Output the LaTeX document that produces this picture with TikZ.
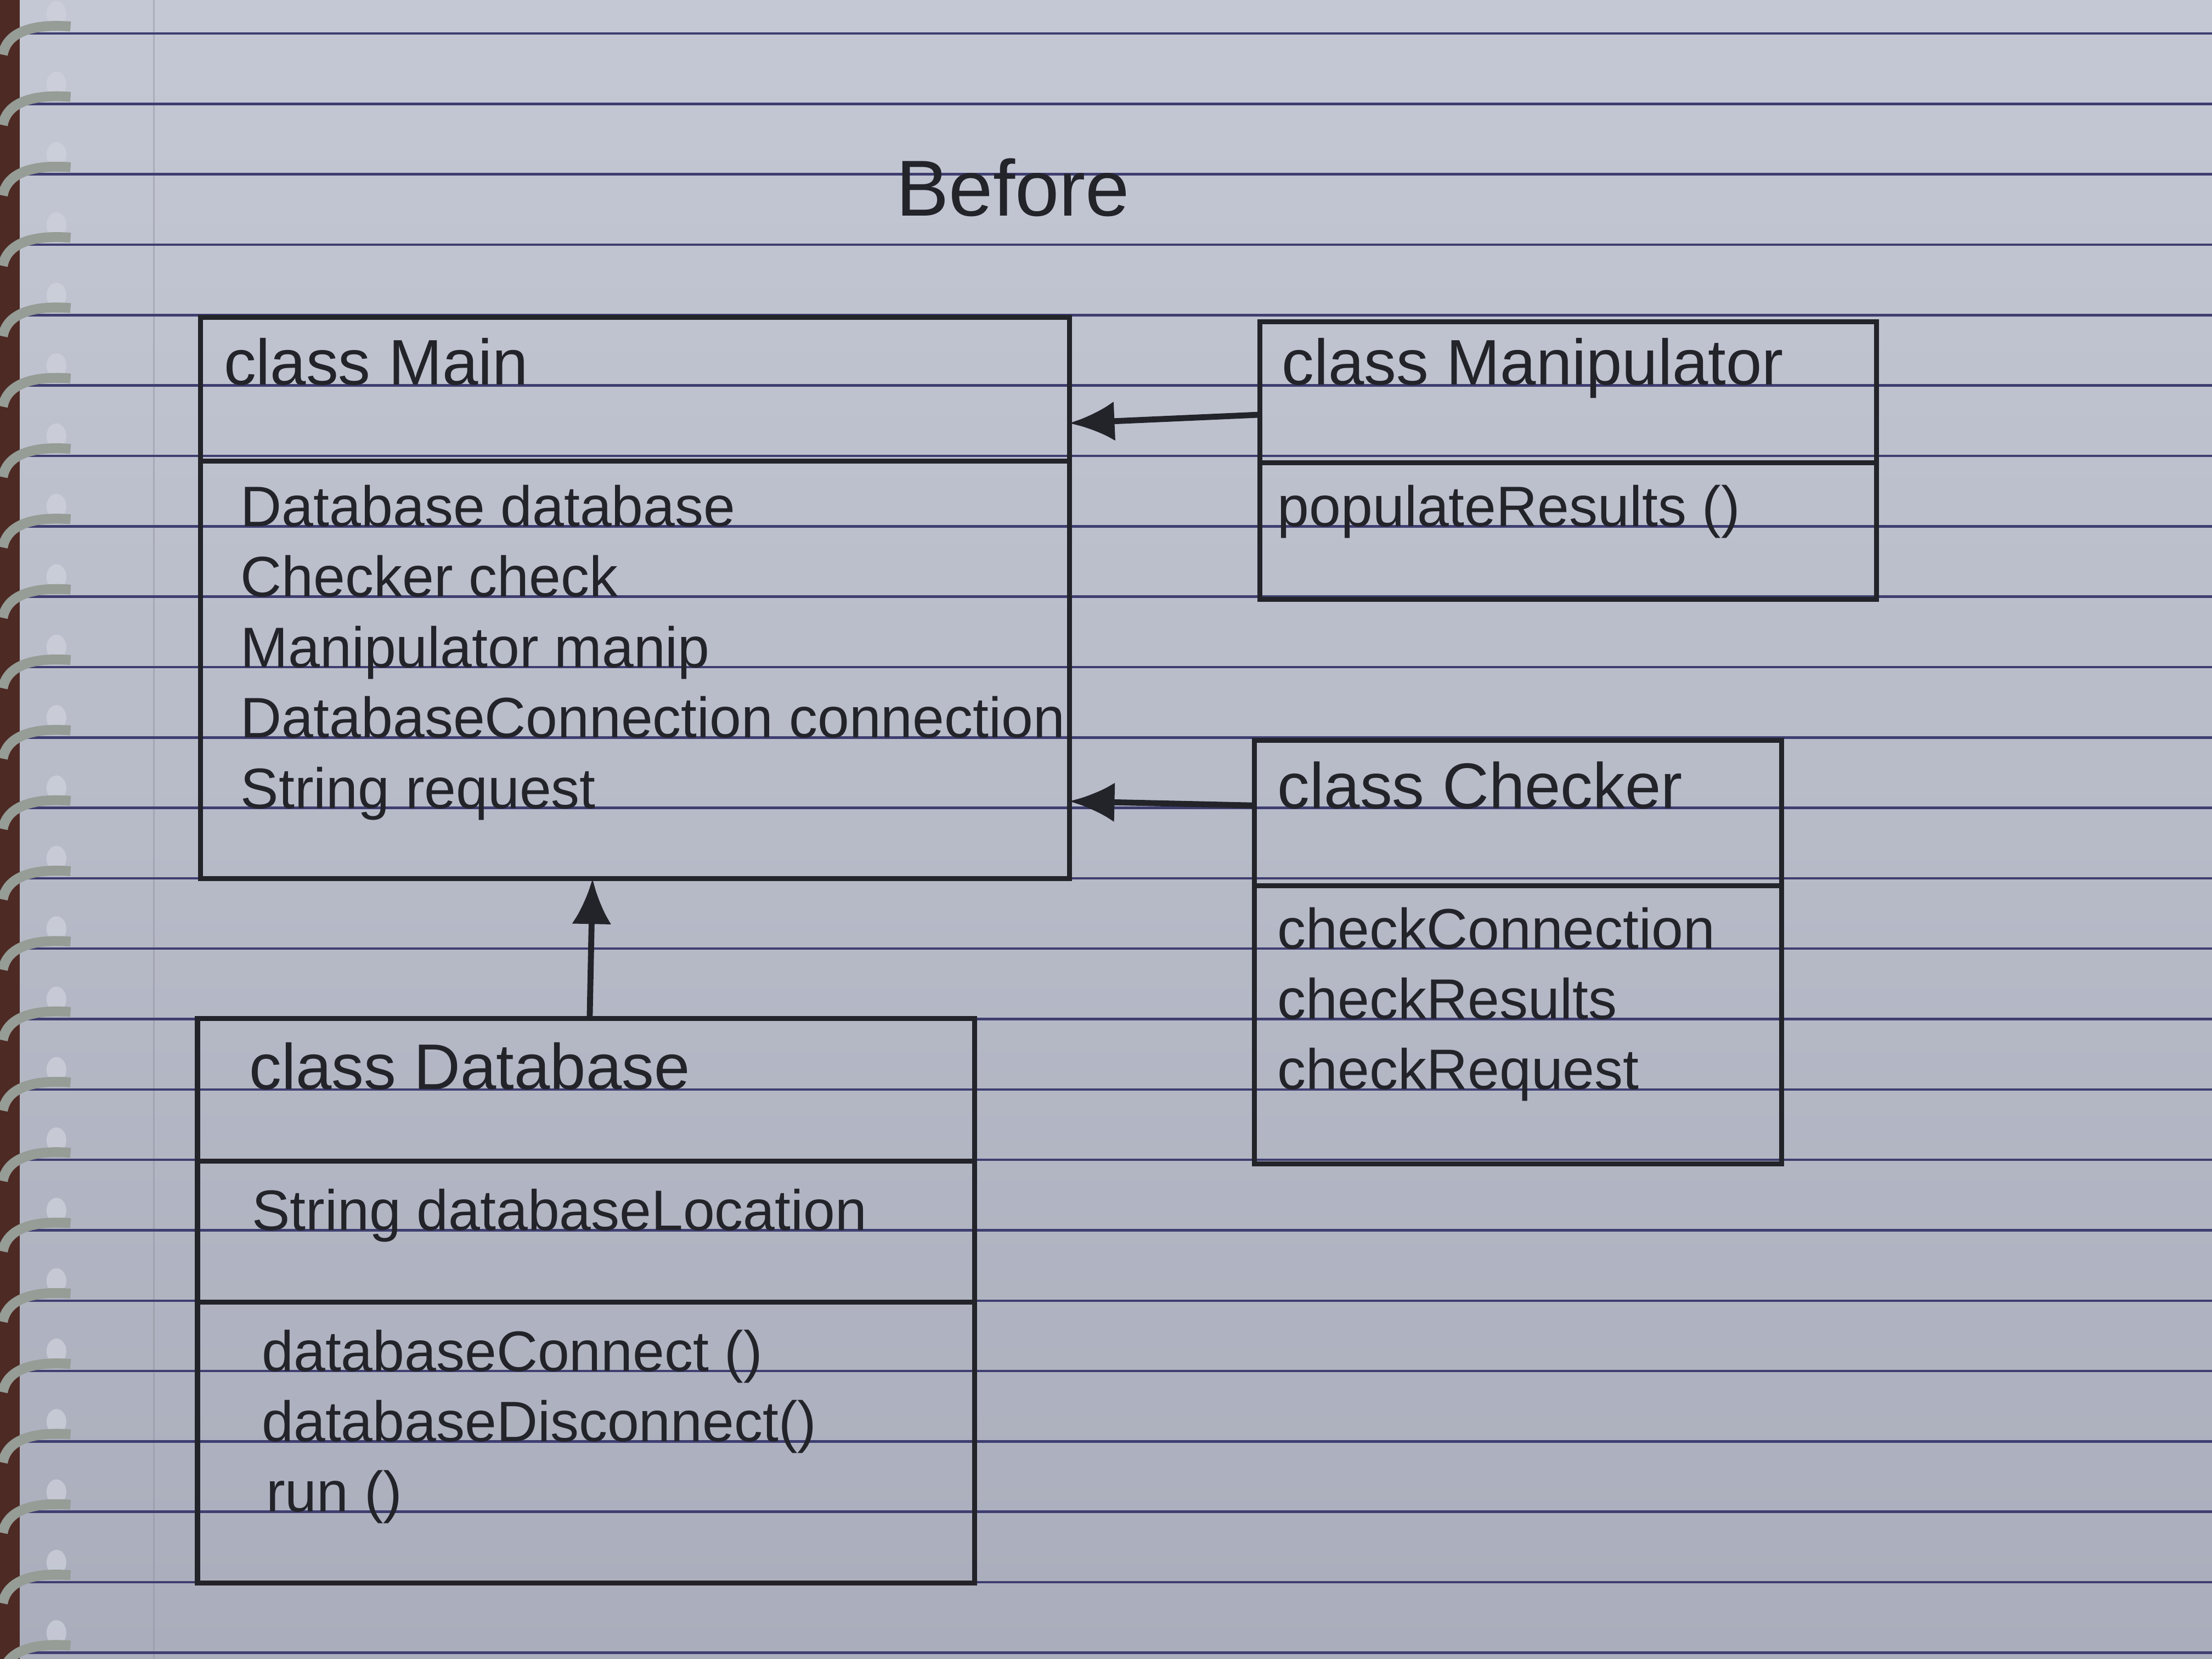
\documentclass[tikz,border=0pt]{standalone}
\usepackage{fontspec}
\setmainfont{Liberation Sans}
\usetikzlibrary{arrows.meta,positioning}
\definecolor{paper}{RGB}{196,200,212}
\definecolor{paperdark}{RGB}{170,174,188}
\definecolor{rule}{RGB}{62,62,112}
\definecolor{pen}{RGB}{35,35,42}
\definecolor{cover}{RGB}{78,42,36}
\definecolor{wire}{RGB}{150,156,150}

\begin{document}
\begin{tikzpicture}
		\tikzset{part/.style = {shape=rectangle,draw=pen,line width=1pt,inner sep=0pt,outer sep=0pt}}
		\tikzset{title/.style = {anchor=base west,inner sep=0pt,text=pen,font=\fontsize{13}{15}\selectfont}}
		\tikzset{member/.style = {anchor=base west,inner sep=0pt,text=pen,font=\fontsize{11.5}{14}\selectfont}}
		\tikzset{edge/.style = {draw=pen,line width=1.2pt,-{Latex[length=3.2mm,width=2.8mm]}}}
		% paper
		\useasboundingbox (0,0) rectangle (15.68,11.76);
		\shade[top color=paper,bottom color=paperdark] (0,0) rectangle (15.68,11.76);
		\fill[cover] (0,0) rectangle (0.14,11.76);
		\draw[paperdark!80!black,line width=0.3pt,opacity=0.4] (1.09,0) -- (1.09,11.76);
		\foreach \k in {0,...,23}{
			\pgfmathsetmacro\ry{11.522-0.499*\k}
			\draw[rule,line width=0.5pt] (0.14,\ry) -- (15.68,\ry);
			\fill[paper!80!white,opacity=0.7] (0.40,\ry+0.14) ellipse (0.07 and 0.09);
			\draw[wire,line width=2pt] (0.50,\ry+0.05) .. controls (0.25,\ry+0.07) and (0.05,\ry+0.02) .. (0.02,\ry-0.15);
		}
		
		% classes
		\node[part,minimum width=6.16cm,minimum height=1.02cm] (mainhead) at (4.50,9.00) {};
		\node[part,minimum width=6.16cm,minimum height=2.96cm,below=0pt of mainhead] (mainattr) {};
		\node[part,minimum width=4.37cm,minimum height=1.00cm] (manhead) at (11.115,8.98) {};
		\node[part,minimum width=4.37cm,minimum height=0.97cm,below=0pt of manhead] (manops) {};
		\node[part,minimum width=3.74cm,minimum height=1.03cm] (chkhead) at (10.76,5.995) {};
		\node[part,minimum width=3.74cm,minimum height=1.97cm,below=0pt of chkhead] (chkops) {};
		\node[part,minimum width=5.51cm,minimum height=1.01cm] (dbhead) at (4.155,4.035) {};
		\node[part,minimum width=5.51cm,minimum height=1.00cm,below=0pt of dbhead] (dbattr) {};
		\node[part,minimum width=5.51cm,minimum height=1.99cm,below=0pt of dbattr] (dbops) {};
		
		% texts
		\node[text=pen,anchor=base,font=\fontsize{16}{19}\selectfont] (before) at (7.18,10.23) {Before};
		
		\node[title] (maint) at (1.58,9.03) {class Main};
		\node[member] (main1) at (1.70,8.03) {Database database};
		\node[member] (main2) at (1.70,7.53) {Checker check};
		\node[member] (main3) at (1.70,7.03) {Manipulator manip};
		\node[member] (main4) at (1.70,6.53) {DatabaseConnection connection};
		\node[member] (main5) at (1.70,6.03) {String request};
		
		\node[title] (mant) at (9.08,9.03) {class Manipulator};
		\node[member] (man1) at (9.05,8.03) {populateResults ()};
		
		\node[title] (chkt) at (9.05,6.03) {class Checker};
		\node[member] (chk1) at (9.05,5.035) {checkConnection};
		\node[member] (chk2) at (9.05,4.536) {checkResults};
		\node[member] (chk3) at (9.05,4.037) {checkRequest};
		
		\node[title] (dbt) at (1.76,4.037) {class Database};
		\node[member] (db1) at (1.78,3.039) {String databaseLocation};
		\node[member] (db2) at (1.85,2.041) {databaseConnect ()};
		\node[member] (db3) at (1.85,1.542) {databaseDisconnect()};
		\node[member] (db4) at (1.88,1.043) {run ()};
		
		%edges
		\draw[edge] ([yshift=-1.6mm]manhead.west) to ([yshift=-2.4mm]mainhead.east);
		\draw[edge] ([yshift=0.55mm]chkhead.west) to ([yshift=-9.3mm]mainattr.east);
		\draw[edge] ([xshift=0.25mm]dbhead.north) to ([xshift=-3mm]mainattr.south);
\end{tikzpicture}
\end{document}
